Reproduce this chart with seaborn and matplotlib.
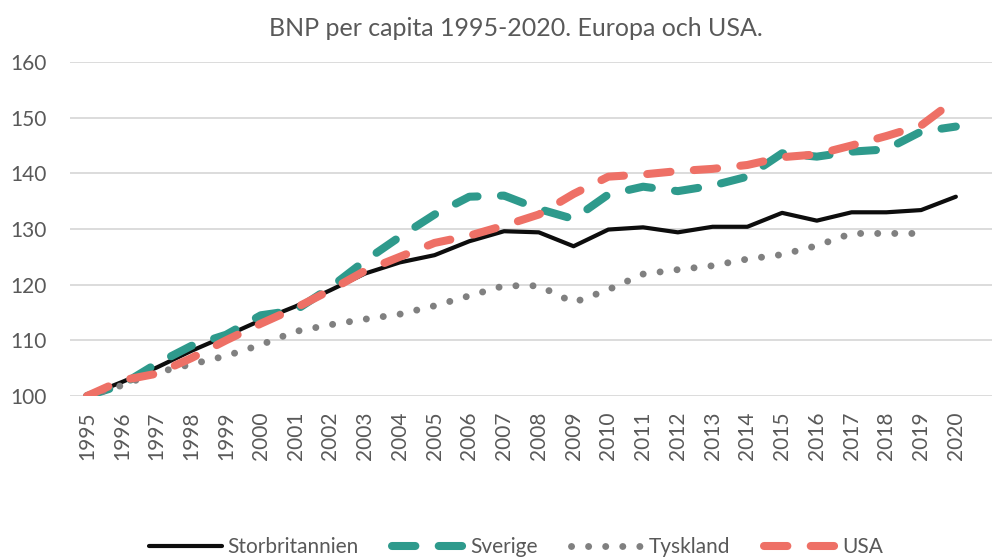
import numpy as np
import pandas as pd
import matplotlib
matplotlib.use('Agg')
import matplotlib.pyplot as plt
import seaborn as sns

# data (index 1995 = 100)
years = [1995, 1996, 1997, 1998, 1999, 2000, 2001, 2002, 2003, 2004, 2005, 2006, 2007,
         2008, 2009, 2010, 2011, 2012, 2013, 2014, 2015, 2016, 2017, 2018, 2019, 2020]
storbritannien = [100, 102.5, 105.1, 108.1, 110.8, 113.6, 116.1, 119.0, 122.0, 124.0, 125.3, 127.8, 129.6,
                  129.4, 126.9, 129.9, 130.3, 129.4, 130.4, 130.4, 132.9, 131.5, 133.0, 133.0, 133.4, 135.8]
sverige = [100, 102.0, 105.8, 109.0, 111.0, 114.5, 115.4, 119.5, 124.3, 128.6, 132.6, 135.8, 136.0,
           133.6, 131.8, 136.2, 137.6, 136.8, 137.8, 139.4, 143.6, 143.0, 143.9, 144.3, 147.5, 148.4]
tyskland = [100, 101.9, 104.2, 105.7, 107.2, 109.2, 111.6, 112.8, 113.8, 114.7, 116.2, 118.0, 119.8,
            119.8, 116.8, 119.1, 121.9, 122.7, 123.4, 124.6, 125.4, 127.0, 129.2, 129.2, 129.2, np.nan]
usa = [100, 102.8, 104.0, 106.8, 110.0, 113.0, 115.8, 119.0, 122.5, 125.0, 127.5, 128.8, 130.6,
       132.6, 136.3, 139.4, 139.8, 140.4, 140.8, 141.5, 142.9, 143.4, 145.0, 146.7, 148.6, 153.3]

df = pd.DataFrame({'year': years, 'Storbritannien': storbritannien, 'Sverige': sverige,
                   'Tyskland': tyskland, 'USA': usa})

sns.set_theme(style='white')
plt.rcParams['font.family'] = ['Lato', 'DejaVu Sans']
txt = '#595959'

# name, colour, linewidth (pt), dash pattern (in linewidths) or None for solid
styles = [('Storbritannien', '#0d0d0d', 3.0, None),
          ('Sverige', '#2e9a8c', 5.8, (2.9, 2.9)),
          ('Tyskland', '#808080', 5.0, (0.01, 2.45)),
          ('USA', '#ee7066', 5.8, (2.9, 2.9))]

fig = plt.figure(figsize=(9.92, 5.58), dpi=100)
ax = fig.add_axes([70/992, 1-396/558, (992-70)/992, (396-62)/558])

for name, col, lw, dash in styles:
    sns.lineplot(data=df, x='year', y=name, color=col, linewidth=lw, label=name, ax=ax)
    line = ax.lines[-1]
    if dash is not None:
        line.set_dashes(dash)
        line.set_dash_capstyle('round')
    else:
        line.set_solid_capstyle('round')

handles, labels = ax.get_legend_handles_labels()
ax.get_legend().remove()

ax.set_xlim(1994.51, 2021.04)
ax.set_ylim(100, 160)
ax.set_xticks(years)
ax.set_xticklabels([str(y) for y in years], rotation=90)
ax.set_yticks([100, 110, 120, 130, 140, 150, 160])
ax.set_xlabel('')
ax.set_ylabel('')
ax.yaxis.grid(True, color='#d9d9d9', linewidth=1.3)
ax.set_axisbelow(True)
for s in ax.spines.values():
    s.set_visible(False)
ax.tick_params(axis='y', length=0, pad=17, labelsize=15, labelcolor=txt)
ax.tick_params(axis='x', length=0, pad=11, labelsize=15, labelcolor=txt)

fig.text(516/992, 1-29/558, 'BNP per capita 1995-2020. Europa och USA.',
         ha='center', va='center', fontsize=18, color=txt)

leg = fig.legend(handles, labels, loc='center', bbox_to_anchor=(516/992, 1-547/558), ncol=4,
                 frameon=False, fontsize=15, handlelength=3.5, handletextpad=0.25, columnspacing=1.6)
for t in leg.get_texts():
    t.set_color(txt)

fig.savefig('out.png', dpi=100)
